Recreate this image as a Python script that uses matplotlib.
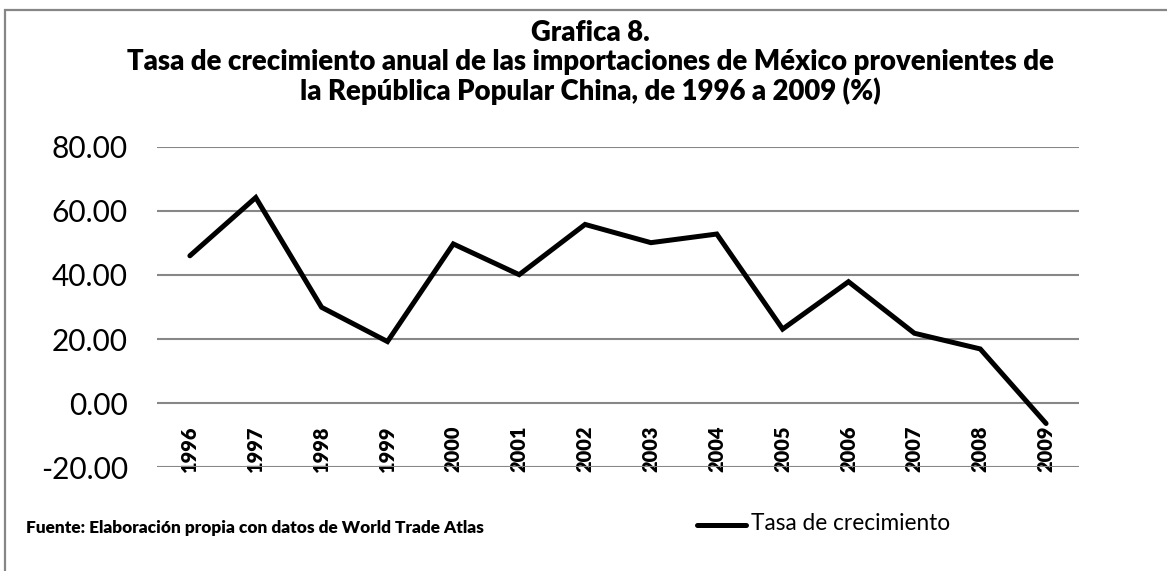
import matplotlib
matplotlib.use("Agg")
import matplotlib.pyplot as plt
from matplotlib.patches import Rectangle
from matplotlib.lines import Line2D

years = ["1996", "1997", "1998", "1999", "2000", "2001", "2002",
         "2003", "2004", "2005", "2006", "2007", "2008", "2009"]
tasa = [46.0, 64.2, 29.9, 19.2, 49.7, 40.1, 55.8,
        50.1, 52.8, 23.1, 37.9, 21.8, 16.9, -6.4]
yticks = [-20, 0, 20, 40, 60, 80]

title = ("Grafica 8.\n"
         "Tasa de crecimiento anual de las importaciones de México provenientes de\n"
         "la República Popular China, de 1996 a 2009 (%)")
fuente = "Fuente: Elaboración propia con datos de World Trade Atlas"

plt.rcParams["font.family"] = ["Lato", "DejaVu Sans"]

fig = plt.figure(figsize=(11.67, 5.71), dpi=100)
ax = fig.add_axes([0.1345, 0.1821, 0.7901, 0.5605])

x = list(range(len(years)))
ax.plot(x, tasa, color="black", lw=3.6, solid_joinstyle="miter",
        solid_capstyle="round")

ax.set_xlim(-0.5, len(years) - 0.5)
ax.set_ylim(-20, 80)
ax.set_yticks(yticks)
ax.set_yticklabels([f"{v:.2f}" for v in yticks], fontsize=21.5)
ax.yaxis.grid(True, color="#878787", lw=1.5)
ax.set_axisbelow(True)
ax.tick_params(axis="y", length=0, pad=21)

# category axis crosses at 0, labels hang under it
ax.spines["bottom"].set_position(("data", 0))
for s in ["top", "right", "left", "bottom"]:
    ax.spines[s].set_visible(False)
ax.set_xticks(x)
ax.set_xticklabels(years, rotation=90, fontsize=14.4, fontweight="heavy",
                   va="top", ha="center")
ax.tick_params(axis="x", length=0, pad=16)

fig.text(0.506, 1 - 20 / 571, title, ha="center", va="top", fontsize=19.8,
         fontweight="heavy", linespacing=1.12)
fig.text(0.022, 0.075, fuente, ha="left", va="center", fontsize=12.4,
         fontweight="heavy")

fig.add_artist(Line2D([697 / 1167, 746 / 1167], [1 - 525 / 571, 1 - 525 / 571],
                      color="black", lw=3.6, solid_capstyle="round"))
fig.text(751 / 1167, 1 - 524 / 571, "Tasa de crecimiento", ha="left",
         va="center", fontsize=16.3)

fig.add_artist(Rectangle((5 / 1167, -0.1), 1.2, 1 - 10 / 571 + 0.1,
                         transform=fig.transFigure, fill=False,
                         edgecolor="#868686", lw=1.6))

fig.savefig("out.png", dpi=100)
